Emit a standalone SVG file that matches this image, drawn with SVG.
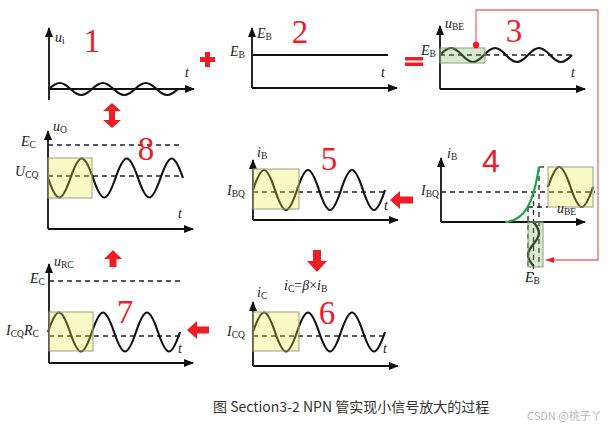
<svg xmlns="http://www.w3.org/2000/svg" width="610" height="426" viewBox="0 0 610 426">
<style>
.ax{stroke:#111;stroke-width:1.8;fill:none;marker-end:url(#ah)}
.ax0{stroke:#111;stroke-width:1.8;fill:none}
.dash{stroke:#222;stroke-width:1.3;stroke-dasharray:5 4;fill:none}
.wave{stroke:#111;stroke-width:2.2;fill:none}
.ybox{fill:rgb(238,238,70);fill-opacity:0.3;stroke:#9a9a80;stroke-width:1}
.gbox{fill:rgb(122,178,88);fill-opacity:0.3;stroke:#8aa07a;stroke-width:1}
.lab{font-family:"Liberation Serif",serif;font-style:italic;font-size:14px;fill:#222}
.sub{font-style:normal;font-size:9.5px}
.num{font-family:"Liberation Serif",serif;font-size:33px;fill:#ee1c25;text-anchor:middle}
.red{fill:#ee1c25}
.conn{stroke:#f06a6a;stroke-width:1.3;fill:none}
</style>
<defs>
<marker id="ah" markerUnits="userSpaceOnUse" viewBox="0 0 10 8" refX="9" refY="4" markerWidth="10" markerHeight="8" orient="auto">
<path d="M0,0 L10,4 L0,8 z" fill="#111"/>
</marker>
<marker id="rh" markerUnits="userSpaceOnUse" viewBox="0 0 8 6" refX="8" refY="3" markerWidth="8" markerHeight="6" orient="auto">
<path d="M0,0 L8,3 L0,6 z" fill="#ee1c25"/>
</marker>
</defs>
<rect width="610" height="426" fill="#fff"/>

<g id="panel1">
<path class="ax0" d="M49,100 L49,89"/>
<path class="ax" d="M49,89 L49,28"/>
<path class="ax" d="M49,89 L194,89"/>
<path class="wave" d="M49,89 c8.6,-8 12.9,-8 21.5,0 s12.9,8 21.5,0 s12.9,-8 21.5,0 s12.9,8 21.5,0 s12.9,-8 21.5,0 s12.9,8 21.5,0"/>
<text class="lab" x="55" y="42">u<tspan class="sub" dy="2">i</tspan></text>
<text class="lab" x="185" y="77">t</text>
<text class="num" x="92" y="52">1</text>
</g>

<g id="panel2">
<path class="ax" d="M252,88 L252,28"/>
<path class="ax" d="M252,88 L397,88"/>
<path d="M252,55 L388,55" stroke="#111" stroke-width="1.8"/>
<text class="lab" x="257" y="38">E<tspan class="sub" dy="2">B</tspan></text>
<text class="lab" x="230" y="56">E<tspan class="sub" dy="2">B</tspan></text>
<text class="lab" x="381" y="77">t</text>
<text class="num" x="300" y="43">2</text>
</g>

<g id="panel3">
<path class="ax" d="M440,89 L440,26"/>
<path class="ax" d="M440,89 L585,89"/>
<path class="dash" d="M440,55 L572,55"/>
<path class="wave" d="M440,55 c8.8,-9.33 13.2,-9.33 22,0 s13.2,9.33 22,0 s13.2,-9.33 22,0 s13.2,9.33 22,0 s13.2,-9.33 22,0 s13.2,9.33 22,0"/>
<rect class="gbox" x="440" y="48" width="45" height="15"/>
<text class="lab" x="445" y="28">u<tspan class="sub" dy="2">BE</tspan></text>
<text class="lab" x="421" y="55">E<tspan class="sub" dy="2">B</tspan></text>
<text class="lab" x="571" y="77">t</text>
<text class="num" x="514" y="42">3</text>
</g>

<g id="panel8">
<path class="ax" d="M48,229 L48,131"/>
<path class="ax" d="M48,229 L193,229"/>
<path class="dash" d="M48,145 L180,145"/>
<path class="dash" d="M48,176 L182,176"/>
<path class="wave" d="M48,178 c9,26 13.5,26 22.5,0 s13.5,-26 22.5,0 s13.5,26 22.5,0 s13.5,-26 22.5,0 s13.5,26 22.5,0 s13.5,-26 22.5,0"/>
<rect class="ybox" x="48" y="158" width="44" height="40"/>
<text class="lab" x="53" y="131">u<tspan class="sub" dy="2">O</tspan></text>
<text class="lab" x="21" y="146">E<tspan class="sub" dy="2">C</tspan></text>
<text class="lab" x="15" y="176">U<tspan class="sub" dy="2">CQ</tspan></text>
<text class="lab" x="178" y="218">t</text>
<text class="num" x="146" y="160">8</text>
</g>

<g id="panel5">
<path class="ax" d="M253,220 L253,160"/>
<path class="ax" d="M253,220 L398,220"/>
<path class="dash" d="M253,192 L388,192"/>
<path class="wave" d="M253,190 c8.8,-26.67 13.2,-26.67 22,0 s13.2,26.67 22,0 s13.2,-26.67 22,0 s13.2,26.67 22,0 s13.2,-26.67 22,0 s13.2,26.67 22,0"/>
<rect class="ybox" x="253" y="169" width="46" height="40"/>
<text class="lab" x="257" y="157">i<tspan class="sub" dy="2">B</tspan></text>
<text class="lab" x="227" y="195">I<tspan class="sub" dy="2">BQ</tspan></text>
<text class="lab" x="384" y="210">t</text>
<text class="num" x="329" y="170">5</text>
</g>

<g id="panel4">
<path class="ax" d="M441,222 L441,158"/>
<path class="ax" d="M441,222 L585,222"/>
<path class="dash" d="M441,192 L595,192"/>
<path class="dash" d="M539,167 L548,167"/>
<path class="dash" d="M528,207 L548,207"/>
<path class="dash" d="M539,167 L539,267"/>
<path class="dash" d="M533.5,192 L533.5,275"/>
<path class="dash" d="M528,207 L528,267"/>
<path d="M505,222 C524,221 533,205 539,167" stroke="#1aa84a" stroke-width="2.2" fill="none"/>
<path class="wave" d="M548,187 c9,-26.67 13.5,-26.67 22.5,0 s13.5,26.67 22.5,0"/>
<rect class="ybox" x="548" y="167" width="45" height="40"/>
<path class="wave" d="M533.5,222 c7.33,8.8 7.33,13.2 0,22 s-7.33,13.2 0,22"/>
<rect class="gbox" x="528" y="222" width="15" height="45"/>
<text class="lab" x="447" y="158">i<tspan class="sub" dy="2">B</tspan></text>
<text class="lab" x="421" y="195">I<tspan class="sub" dy="2">BQ</tspan></text>
<text class="lab" x="557" y="213">u<tspan class="sub" dy="2">BE</tspan></text>
<text class="lab" x="525" y="282">E<tspan class="sub" dy="2">B</tspan></text>
<text class="num" x="491" y="172" style="font-family:'Liberation Sans',sans-serif;font-size:32px">4</text>
</g>

<g id="panel7">
<path class="ax" d="M49,363 L49,264"/>
<path class="ax" d="M49,363 L193,363"/>
<path class="dash" d="M49,281 L182,281"/>
<path class="dash" d="M49,336 L182,336"/>
<path class="wave" d="M48,332 c8.8,-26 13.2,-26 22,0 s13.2,26 22,0 s13.2,-26 22,0 s13.2,26 22,0 s13.2,-26 22,0 s13.2,26 22,0"/>
<rect class="ybox" x="49" y="312" width="44" height="39"/>
<text class="lab" x="54" y="266">u<tspan class="sub" dy="2">RC</tspan></text>
<text class="lab" x="30" y="283">E<tspan class="sub" dy="2">C</tspan></text>
<text class="lab" x="6" y="335">I<tspan class="sub" dy="2">CQ</tspan><tspan dy="-2">R</tspan><tspan class="sub" dy="2">C</tspan></text>
<text class="lab" x="178" y="353">t</text>
<text class="num" x="125" y="323">7</text>
</g>

<g id="panel6">
<path class="ax" d="M253,366 L253,302"/>
<path class="ax" d="M253,366 L398,366"/>
<path class="dash" d="M253,336 L387,336"/>
<path class="wave" d="M253,332 c8.8,-26 13.2,-26 22,0 s13.2,26 22,0 s13.2,-26 22,0 s13.2,26 22,0 s13.2,-26 22,0 s13.2,26 22,0"/>
<rect class="ybox" x="253" y="312" width="46" height="39"/>
<text class="lab" x="257" y="297">i<tspan class="sub" dy="2">C</tspan></text>
<text class="lab" x="227" y="336">I<tspan class="sub" dy="2">CQ</tspan></text>
<text class="lab" x="284" y="290">i<tspan class="sub" dy="2">C</tspan><tspan style="font-style:normal" dy="-2">=</tspan>β<tspan style="font-style:normal">×</tspan>i<tspan class="sub" dy="2">B</tspan></text>
<text class="lab" x="383" y="353">t</text>
<text class="num" x="327" y="324">6</text>
</g>

<g id="operators">
<rect class="red" x="200" y="57" width="15" height="5"/>
<rect class="red" x="205" y="52" width="5" height="15"/>
<rect class="red" x="405" y="57" width="18" height="3.5"/>
<rect class="red" x="405" y="62.5" width="18" height="3.5"/>
</g>

<g id="connectors">
<polyline class="conn" points="476,45 476,10 598,10 598,260 546,260" marker-end="url(#rh)"/>
<circle cx="476" cy="45" r="3.2" fill="#ee1c25"/>
<polygon class="red" points="112,103 121,111 115,111 115,120 121,120 112,128 103,120 109,120 109,111 103,111"/>
<polygon class="red" points="113,250 122,259 116.5,259 116.5,267 109.5,267 109.5,259 104,259"/>
<polygon class="red" points="313,250 321,250 321,261 327,261 317,272 307,261 313,261"/>
<polygon class="red" points="390,200 400,191 400,196.5 413,196.5 413,203.5 400,203.5 400,209"/>
<polygon class="red" points="187,330 197,321 197,326.5 209,326.5 209,333.5 197,333.5 197,339"/>
</g>

<g id="caption">
<text x="213" y="412" font-family="'Noto Sans CJK SC',sans-serif" font-size="14" fill="#333">图 Section3-2 NPN 管实现小信号放大的过程</text>
<text x="527" y="420" font-family="'Noto Sans CJK SC',sans-serif" font-size="11" fill="#b8b8b8">CSDN @桃子丫</text>
</g>
</svg>
